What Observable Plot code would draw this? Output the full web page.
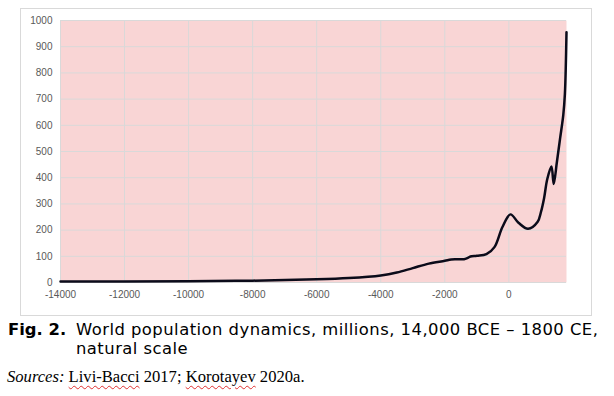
<!DOCTYPE html>
<html>
<head>
<meta charset="utf-8">
<script src="https://cdn.jsdelivr.net/npm/d3@7"></script>
<script src="https://cdn.jsdelivr.net/npm/@observablehq/plot@0.6"></script>
<style>
  html, body { margin: 0; padding: 0; background: #fff; }
  #wrap { position: relative; width: 614px; height: 396px; overflow: hidden; }
  #box { position: absolute; left: 20px; top: 8px; width: 570px; height: 306px; border: 1px solid #d9d9d9; }
  #chart { position: absolute; left: 0; top: 0; }
  #cap { position: absolute; left: 8px; top: 320px; font-family: "DejaVu Sans", sans-serif; font-size: 16.4px; line-height: 19px; color: #000; display: flex; }
  #cap .lab { font-weight: bold; width: 68px; flex: none; }
  #cap .txt { letter-spacing: 0.47px; white-space: nowrap; }
  #src { position: absolute; left: 7px; top: 367px; font-family: "Liberation Serif", serif; font-size: 16.6px; color: #000; white-space: nowrap; }
  .sp { text-decoration: underline wavy #e03030; text-decoration-thickness: 1px; text-underline-offset: 3px; }
</style>
</head>
<body>
<div id="wrap">
  <div id="box"></div>
  <div id="chart"></div>
  <div id="cap"><div class="lab">Fig. 2.</div><div class="txt">World population dynamics, millions, 14,000 BCE – 1800 CE,<br>natural scale</div></div>
  <div id="src"><i>Sources:</i> <span class="sp">Livi-Bacci</span> 2017; <span class="sp">Korotayev</span> 2020a.</div>
</div>
<script>
const years = [-14000, -12000, -10000, -8000, -6000, -5000, -4000, -3500, -3000, -2500, -2000, -1800, -1400, -1300, -1200, -1000, -700, -450, -200, 50, 300, 600, 900, 1000, 1100, 1200, 1330, 1400, 1500, 1600, 1700, 1750, 1800];
const population = [4, 4, 5, 7, 12, 17, 27, 38, 55, 72, 83, 88, 89, 93, 99, 102, 108, 135, 212, 260, 228, 205, 232, 268, 322, 395, 443, 376, 460, 550, 640, 720, 955];
const xTicks = [-14000, -12000, -10000, -8000, -6000, -4000, -2000, 0];
const yTicks = [0, 100, 200, 300, 400, 500, 600, 700, 800, 900, 1000];

const data = years.map((y, i) => ({year: y, pop: population[i]}));

const plot = Plot.plot({
  width: 614,
  height: 318,
  marginLeft: 60,
  marginRight: 48,
  marginTop: 20,
  marginBottom: 36,
  style: {fontFamily: "'Liberation Sans', sans-serif", fontSize: "10px", color: "#595959", background: "transparent", overflow: "visible"},
  x: {domain: [-14000, 1800], ticks: xTicks, tickFormat: d => String(d), tickSize: 0, tickPadding: 8, label: null},
  y: {domain: [0, 1000], ticks: yTicks, tickFormat: d => String(d), tickSize: 0, tickPadding: 8, label: null},
  marks: [
    Plot.frame({fill: "#f9d5d5", stroke: null}),
    Plot.gridY(yTicks, {stroke: "#d9d9d9", strokeOpacity: 1}),
    Plot.gridX(xTicks, {stroke: "#d9d9d9", strokeOpacity: 1}),
    Plot.axisX(xTicks, {tickSize: 0, tickPadding: 8, tickFormat: d => String(d), label: null, fill: "#595959"}),
    Plot.axisY(yTicks, {tickSize: 0, tickPadding: 8, tickFormat: d => String(d), label: null, fill: "#595959"}),
    Plot.line(data, {x: "year", y: "pop", curve: "catmull-rom", stroke: "#0b0b1a", strokeWidth: 2.5})
  ]
});
document.getElementById("chart").appendChild(plot);
</script>
</body>
</html>
